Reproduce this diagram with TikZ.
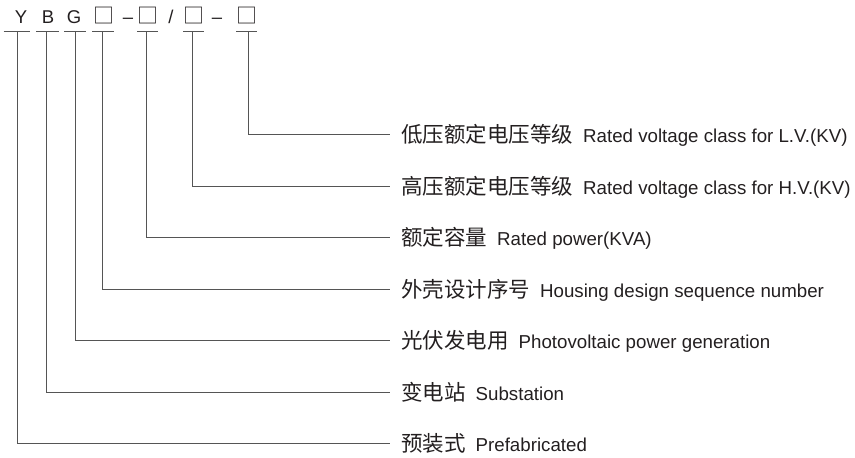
\documentclass[tikz,border=0pt]{standalone}
\usepackage{fontspec}
\setmainfont{Liberation Sans}
\newfontfamily\cjk{Noto Sans CJK SC}
\definecolor{textblack}{HTML}{231F20}
\definecolor{linegray}{HTML}{555555}
\begin{document}
\begin{tikzpicture}[x=1pt,y=-1pt]
\useasboundingbox (0,0) rectangle (855,458);
\tikzset{
  conn/.style={draw=linegray, line width=1pt},
  codech/.style={inner sep=0pt, anchor=base, text=textblack, font=\fontsize{18.5}{20}\selectfont},
  boxch/.style={inner sep=0pt, anchor=base, text=textblack, font=\cjk\fontsize{21}{22}\selectfont},
  lab/.style={inner sep=0pt, anchor=base west, text=textblack, font=\fontsize{18.7}{20}\selectfont},
}
\newcommand{\zh}[1]{{\cjk\fontsize{21.5}{22}\selectfont #1}\hspace{10pt}}
% code characters
\node[codech] (cY) at (21,23) {Y};
\node[codech] (cB) at (48,23) {B};
\node[codech] (cG) at (74,23) {G};
\node[boxch]  (cb1) at (104,23.5) {□};
\node[codech] (cd1) at (128,23) {–};
\node[boxch]  (cb2) at (148,23.5) {□};
\node[codech] (cs) at (171,23) {/};
\node[boxch]  (cb3) at (194,23.5) {□};
\node[codech] (cd2) at (217,23) {–};
\node[boxch]  (cb4) at (247,23.5) {□};
% underline end points
\coordinate (uY1) at (3.5,31);   \coordinate (uY2) at (30,31);
\coordinate (uB1) at (36,31);    \coordinate (uB2) at (58.5,31);
\coordinate (uG1) at (64,31);    \coordinate (uG2) at (86,31);
\coordinate (ub11) at (92,31);   \coordinate (ub12) at (113.5,31);
\coordinate (ub21) at (137,31);  \coordinate (ub22) at (157.5,31);
\coordinate (ub31) at (183,31);  \coordinate (ub32) at (203.5,31);
\coordinate (ub41) at (236,31);  \coordinate (ub42) at (257,31);
% vertical start points
\coordinate (vY) at (17.3,31);
\coordinate (vB) at (46.7,31);
\coordinate (vG) at (75,31);
\coordinate (vb1) at (102.7,31);
\coordinate (vb2) at (146.7,31);
\coordinate (vb3) at (192.7,31);
\coordinate (vb4) at (248.3,31);
% line ends
\coordinate (e1) at (390,134);
\coordinate (e2) at (390,186);
\coordinate (e3) at (390,237.5);
\coordinate (e4) at (390,289);
\coordinate (e5) at (390,340.5);
\coordinate (e6) at (390,392);
\coordinate (e7) at (390,443.5);
% labels
\node[lab] (l1) at (401,142) {\zh{低压额定电压等级}Rated voltage class for L.V.(KV)};
\node[lab] (l2) at (401,194) {\zh{高压额定电压等级}Rated voltage class for H.V.(KV)};
\node[lab] (l3) at (401,245.5) {\zh{额定容量}Rated power(KVA)};
\node[lab] (l4) at (401,297) {\zh{外壳设计序号}Housing design sequence number};
\node[lab] (l5) at (401,348.5) {\zh{光伏发电用}Photovoltaic power generation};
\node[lab] (l6) at (401,400) {\zh{变电站}Substation};
\node[lab] (l7) at (401,451.5) {\zh{预装式}Prefabricated};
% underlines
\draw[conn] (uY1) -- (uY2);
\draw[conn] (uB1) -- (uB2);
\draw[conn] (uG1) -- (uG2);
\draw[conn] (ub11) -- (ub12);
\draw[conn] (ub21) -- (ub22);
\draw[conn] (ub31) -- (ub32);
\draw[conn] (ub41) -- (ub42);
% connectors
\draw[conn] (vb4) |- (e1);
\draw[conn] (vb3) |- (e2);
\draw[conn] (vb2) |- (e3);
\draw[conn] (vb1) |- (e4);
\draw[conn] (vG) |- (e5);
\draw[conn] (vB) |- (e6);
\draw[conn] (vY) |- (e7);
\end{tikzpicture}
\end{document}
